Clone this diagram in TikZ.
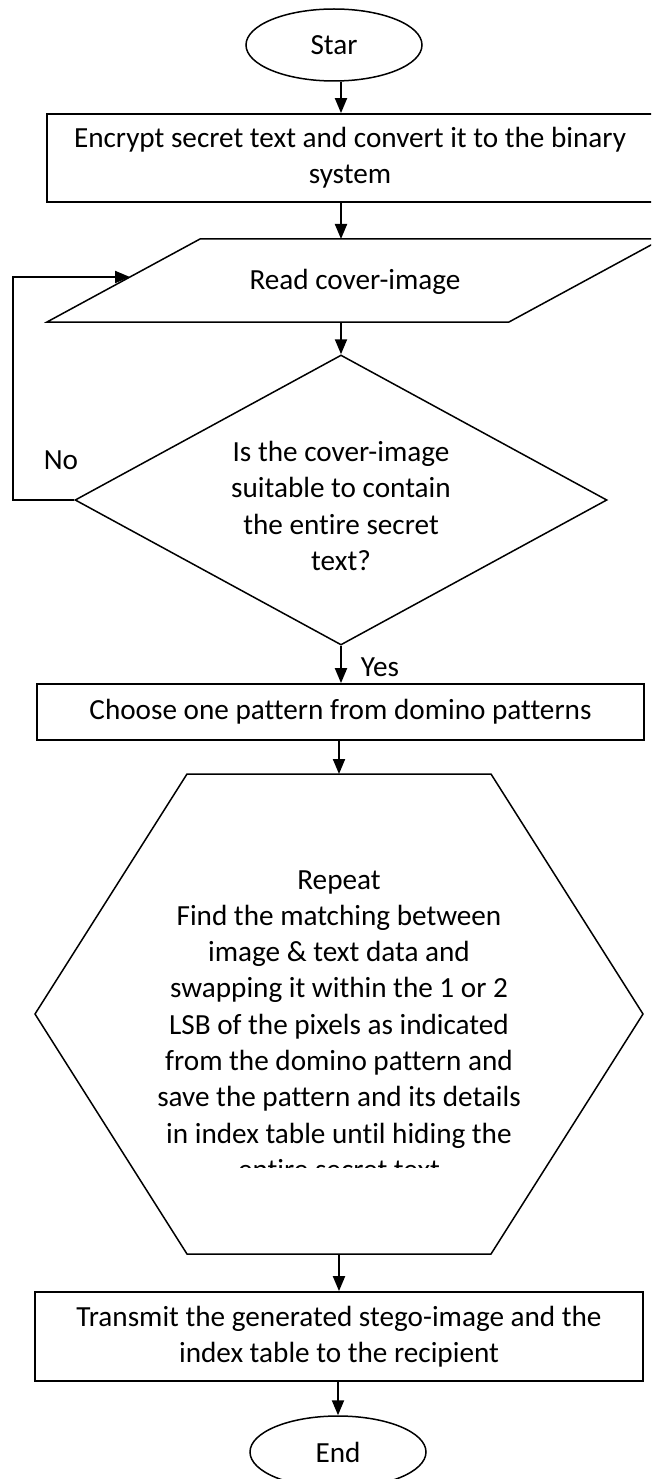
\documentclass[tikz,border=0pt]{standalone}
\usepackage{fontspec}
\setmainfont{Carlito}[Ligatures=NoCommon]
\usetikzlibrary{shapes.geometric,arrows.meta,positioning,calc}

\tikzset{
    base/.style={font=\fontsize{29.2}{36.3}\selectfont, align=center, inner sep=0pt},
    terminal/.style={base, draw, ellipse, line width=1.5pt, minimum width=176pt, minimum height=72pt},
    process/.style={base, draw, rectangle, line width=1.8pt},
    decision/.style={base, draw, diamond, aspect=1.83, line width=1.5pt, minimum width=532pt, minimum height=290pt},
    outline/.style={line width=1.5pt, line join=miter},
    arr/.style={line width=2pt, -{Triangle[length=15pt,width=12pt]}},
}

\begin{document}
\begin{tikzpicture}[x=1pt, y=-1pt]
    \fill[white] (0,0) rectangle (651,1479);
    \clip (0,0) rectangle (651,1479);

    % Start and encryption
    \node[terminal] (start) at (334,45) {Star};
    \node[process, minimum width=606pt, minimum height=88pt] (encrypt) at (350,158)
        {Encrypt secret text and convert it to the binary\\system};

    % Read cover-image (parallelogram)
    \draw[outline] (200,239) -- (662,239) -- (509,322) -- (47,322) -- cycle;
    \node[base] (read) at (355,282) {Read cover-image};
    \coordinate (read-n) at (341,239);
    \coordinate (read-s) at (341,322);
    \coordinate (read-w) at (130,277);
    \coordinate (loop) at (13,277);

    % Decision
    \node[decision] (check) at (341,500)
        {\rule{0pt}{32pt}Is the cover-image\\suitable to contain\\the entire secret\\text?};
    \node[base] (no) at (61,460) {No};
    \node[base] (yes) at (380,667) {Yes};

    % Choose pattern
    \node[process, minimum width=607pt, minimum height=56pt] (choose) at (340.5,712)
        {Choose one pattern from domino patterns};

    % Hiding loop (hexagon)
    \draw[outline] (187,774) -- (491,774) -- (643,1014) -- (491,1254) -- (187,1254) -- (35,1014) -- cycle;
    \begin{scope}
        \clip (35,774) rectangle (643,1167);
        \node[base] (hide) at (339,1025)
            {Repeat\\Find the matching between\\image \& text data and\\swapping it within the 1 or 2\\LSB of the pixels as indicated\\from the domino pattern and\\save the pattern and its details\\in index table until hiding the\\entire secret text};
    \end{scope}
    \coordinate (hex-n) at (339,774);
    \coordinate (hex-s) at (339,1254);

    % Transmit and end
    \node[process, minimum width=608pt, minimum height=89pt] (transmit) at (339,1336.5)
        {Transmit the generated stego-image and the\\index table to the recipient};
    \node[terminal] (stop) at (338,1452) {End};

    % Connectors
    \draw[arr] (start.south -| read-n) -- (encrypt.north -| read-n);
    \draw[arr] (encrypt.south -| read-n) -- (read-n);
    \draw[arr] (read-s) -- (check.north);
    \draw[arr, line join=miter] (check.west) -| (loop) -- (read-w);
    \draw[arr] (check.south) -- (choose.north -| check.south);
    \draw[arr] (choose.south -| hex-n) -- (hex-n);
    \draw[arr] (hex-s) -- (transmit.north -| hex-s);
    \draw[arr] (transmit.south -| stop.north) -- (stop.north);
\end{tikzpicture}
\end{document}
